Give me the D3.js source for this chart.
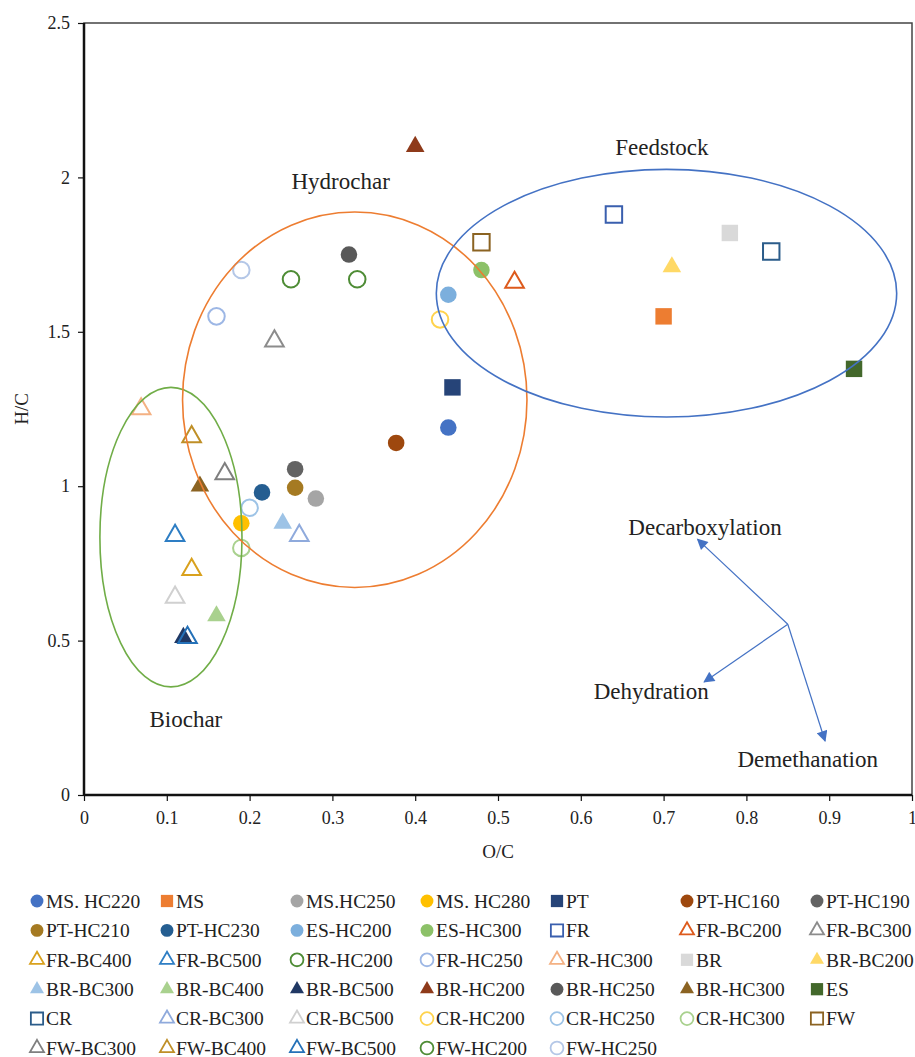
<!DOCTYPE html>
<html>
<head>
<meta charset="utf-8">
<script src="https://cdn.jsdelivr.net/npm/d3@7"></script>
<style>
  html, body { margin: 0; padding: 0; background: #fff; overflow: hidden; }
  svg { display: block; }
  svg text { font-family: "Liberation Serif", "Times New Roman", serif; fill: #222; }
</style>
</head>
<body>
<div id="chart"></div>
<script>
// Series, in legend order
const seriesNames = [
  'MS. HC220', 'MS', 'MS.HC250', 'MS. HC280', 'PT', 'PT-HC160', 'PT-HC190',
  'PT-HC210', 'PT-HC230', 'ES-HC200', 'ES-HC300', 'FR', 'FR-BC200', 'FR-BC300',
  'FR-BC400', 'FR-BC500', 'FR-HC200', 'FR-HC250', 'FR-HC300', 'BR', 'BR-BC200',
  'BR-BC300', 'BR-BC400', 'BR-BC500', 'BR-HC200', 'BR-HC250', 'BR-HC300', 'ES',
  'CR', 'CR-BC300', 'CR-BC500', 'CR-HC200', 'CR-HC250', 'CR-HC300', 'FW',
  'FW-BC300', 'FW-BC400', 'FW-BC500', 'FW-HC200', 'FW-HC250'
]
const seriesShapes = [
  'circle', 'square', 'circle', 'circle', 'square', 'circle', 'circle',
  'circle', 'circle', 'circle', 'circle', 'square', 'triangle', 'triangle',
  'triangle', 'triangle', 'circle', 'circle', 'triangle', 'square', 'triangle',
  'triangle', 'triangle', 'triangle', 'triangle', 'circle', 'triangle', 'square',
  'square', 'triangle', 'triangle', 'circle', 'circle', 'circle', 'square',
  'triangle', 'triangle', 'triangle', 'circle', 'circle'
]
const seriesFilled = [
  true, true, true, true, true, true, true,
  true, true, true, true, false, false, false,
  false, false, false, false, false, true, true,
  true, true, true, true, true, true, true,
  false, false, false, false, false, false, false,
  false, false, false, false, false
]
const seriesColors = [
  '#4472c4', '#ed7d31', '#a5a5a5', '#ffc000', '#264478', '#9e480e', '#636363',
  '#a57a22', '#255e91', '#7cafdd', '#8cc168', '#3a5fae', '#dd5a1c', '#8c8c8c',
  '#d9a11d', '#2e7ec4', '#4e8c35', '#9db7e5', '#f4b183', '#d9d9d9', '#ffd966',
  '#9dc3e6', '#a9d18e', '#203864', '#8e3a1a', '#595959', '#8b6322', '#43682b',
  '#2b5c8a', '#8faadc', '#d0d0d0', '#ffd34d', '#9dc3e6', '#a9d18e', '#8b6322',
  '#7f7f7f', '#bf8f27', '#2471b8', '#4e8c35', '#b4c7e7'
]
// O/C and H/C atomic ratios
const ocValues = [
  0.44, 0.70, 0.28, 0.19, 0.445, 0.377, 0.255,
  0.255, 0.215, 0.44, 0.48, 0.64, 0.52, 0.23,
  0.13, 0.11, 0.25, 0.16, 0.069, 0.78, 0.71,
  0.24, 0.16, 0.12, 0.40, 0.32, 0.14, 0.93,
  0.83, 0.26, 0.11, 0.43, 0.20, 0.19, 0.48,
  0.17, 0.13, 0.125, 0.33, 0.19
]
const hcValues = [
  1.19, 1.55, 0.96, 0.88, 1.32, 1.14, 1.055,
  0.995, 0.98, 1.62, 1.70, 1.88, 1.66, 1.47,
  0.73, 0.84, 1.67, 1.55, 1.25, 1.82, 1.71,
  0.88, 0.58, 0.51, 2.10, 1.75, 1.00, 1.38,
  1.76, 0.84, 0.64, 1.54, 0.93, 0.80, 1.79,
  1.04, 1.16, 0.51, 1.67, 1.70
]

// Group ellipses (centre and radii in O/C, H/C units)
const groupNames = ['Biochar', 'Hydrochar', 'Feedstock']
const groupColors = ['#70ad47', '#ed7d31', '#4472c4']
const groupCx = [0.105, 0.327, 0.7035]
const groupCy = [0.835, 1.28, 1.625]
const groupRx = [0.0858, 0.208, 0.278]
const groupRy = [0.485, 0.608, 0.401]
const groupLabelX = [0.123, 0.310, 0.698]
const groupLabelY = [0.246, 1.990, 2.100]

// Reaction pathway arrows
const arrowOrigin = [0.850, 0.553]
const arrowNames = ['Decarboxylation', 'Dehydration', 'Demethanation']
const arrowTipX = [0.741, 0.749, 0.895]
const arrowTipY = [0.828, 0.366, 0.175]
const arrowLabelX = [0.750, 0.685, 0.874]
const arrowLabelY = [0.867, 0.337, 0.117]

const xTicks = [0, 0.1, 0.2, 0.3, 0.4, 0.5, 0.6, 0.7, 0.8, 0.9, 1]
const yTicks = [0, 0.5, 1, 1.5, 2, 2.5]

const width = 915
const height = 1057
const margin = { top: 23, right: 3, bottom: 262, left: 84 }
const innerWidth = width - margin.left - margin.right
const innerHeight = height - margin.top - margin.bottom

const svg = d3.select('#chart')
  .append('svg')
  .attr('width', width)
  .attr('height', height)

const g = svg.append('g')
  .attr('transform', `translate(${margin.left}, ${margin.top})`)

const xScale = d3.scaleLinear().domain([0, 1]).range([0, innerWidth])
const yScale = d3.scaleLinear().domain([0, 2.5]).range([innerHeight, 0])

// Frame (top and right)
g.append('rect')
  .attr('width', innerWidth)
  .attr('height', innerHeight)
  .attr('fill', 'none')
  .attr('stroke', '#444')
  .attr('stroke-width', 1.5)

// Axes
const xAxis = g.append('g')
  .attr('transform', `translate(0, ${innerHeight})`)
  .call(d3.axisBottom(xScale).tickValues(xTicks).tickSize(6).tickPadding(10)
    .tickFormat(d3.format('')))
const yAxis = g.append('g')
  .call(d3.axisLeft(yScale).tickValues(yTicks).tickSize(6).tickPadding(8)
    .tickFormat(d3.format('')))

;[xAxis, yAxis].forEach(ax => {
  ax.select('.domain').attr('stroke', '#111').attr('stroke-width', 2.5)
  ax.selectAll('.tick line').attr('stroke', '#111').attr('stroke-width', 1.2)
  ax.selectAll('.tick text')
    .attr('fill', '#222')
    .style('font-family', '"Liberation Serif", serif')
    .style('font-size', '18px')
})
xAxis.select('.domain').attr('d', `M0,0H${innerWidth}`)
yAxis.select('.domain').attr('d', `M0,0V${innerHeight}`)

// Axis titles
svg.append('text')
  .attr('x', margin.left + innerWidth / 2)
  .attr('y', 858)
  .attr('text-anchor', 'middle')
  .style('font-size', '19px')
  .text('O/C')

svg.append('text')
  .attr('transform', `translate(28, ${margin.top + innerHeight / 2}) rotate(-90)`)
  .attr('text-anchor', 'middle')
  .style('font-size', '19px')
  .text('H/C')

// Symbols
const symbolFor = (shape, big) => {
  if (shape === 'circle') return d3.symbol(d3.symbolCircle, big ? 215 : 130)()
  if (shape === 'square') return d3.symbol(d3.symbolSquare, big ? 270 : 150)()
  return d3.symbol(d3.symbolTriangle, big ? 150 : 85)()
}

const points = seriesNames.map((name, i) => ({
  name,
  shape: seriesShapes[i],
  filled: seriesFilled[i],
  color: seriesColors[i],
  oc: ocValues[i],
  hc: hcValues[i]
}))

g.append('g')
  .selectAll('path')
  .data(points)
  .join('path')
  .attr('transform', d => `translate(${xScale(d.oc)}, ${yScale(d.hc)})`)
  .attr('d', d => symbolFor(d.shape, true))
  .attr('fill', d => d.filled ? d.color : 'none')
  .attr('stroke', d => d.filled ? 'none' : d.color)
  .attr('stroke-width', 2)

// Ellipses on top of points
groupNames.forEach((name, i) => {
  g.append('ellipse')
    .attr('cx', xScale(groupCx[i]))
    .attr('cy', yScale(groupCy[i]))
    .attr('rx', xScale(groupRx[i]) - xScale(0))
    .attr('ry', yScale(0) - yScale(groupRy[i]))
    .attr('fill', 'none')
    .attr('stroke', groupColors[i])
    .attr('stroke-width', 1.6)

  g.append('text')
    .attr('x', xScale(groupLabelX[i]))
    .attr('y', yScale(groupLabelY[i]))
    .attr('dy', '0.35em')
    .attr('text-anchor', 'middle')
    .style('font-size', '23px')
    .text(name)
})

// Arrow heads
svg.append('defs').append('marker')
  .attr('id', 'arrow')
  .attr('viewBox', '0 0 10 10')
  .attr('refX', 9)
  .attr('refY', 5)
  .attr('markerWidth', 13)
  .attr('markerHeight', 11)
  .attr('markerUnits', 'userSpaceOnUse')
  .attr('orient', 'auto')
  .append('path')
  .attr('d', 'M0,0L10,5L0,10Z')
  .attr('fill', '#4472c4')

arrowNames.forEach((name, i) => {
  g.append('line')
    .attr('x1', xScale(arrowOrigin[0]))
    .attr('y1', yScale(arrowOrigin[1]))
    .attr('x2', xScale(arrowTipX[i]))
    .attr('y2', yScale(arrowTipY[i]))
    .attr('stroke', '#4472c4')
    .attr('stroke-width', 1.2)
    .attr('marker-end', 'url(#arrow)')

  g.append('text')
    .attr('x', xScale(arrowLabelX[i]))
    .attr('y', yScale(arrowLabelY[i]))
    .attr('dy', '0.35em')
    .attr('text-anchor', 'middle')
    .style('font-size', '23px')
    .text(name)
})

// Legend: 7 columns, row-major
const legendCols = 7
const legend = svg.append('g')
  .selectAll('g')
  .data(points)
  .join('g')
  .attr('transform', (d, i) =>
    `translate(${37 + (i % legendCols) * 130}, ${901 + Math.floor(i / legendCols) * 29.4})`)

legend.append('path')
  .attr('d', d => symbolFor(d.shape, false))
  .attr('fill', d => d.filled ? d.color : 'none')
  .attr('stroke', d => d.filled ? 'none' : d.color)
  .attr('stroke-width', 1.8)

legend.append('text')
  .attr('x', 9)
  .attr('dy', '0.35em')
  .style('font-size', '19.5px')
  .text(d => d.name)
</script>
</body>
</html>
